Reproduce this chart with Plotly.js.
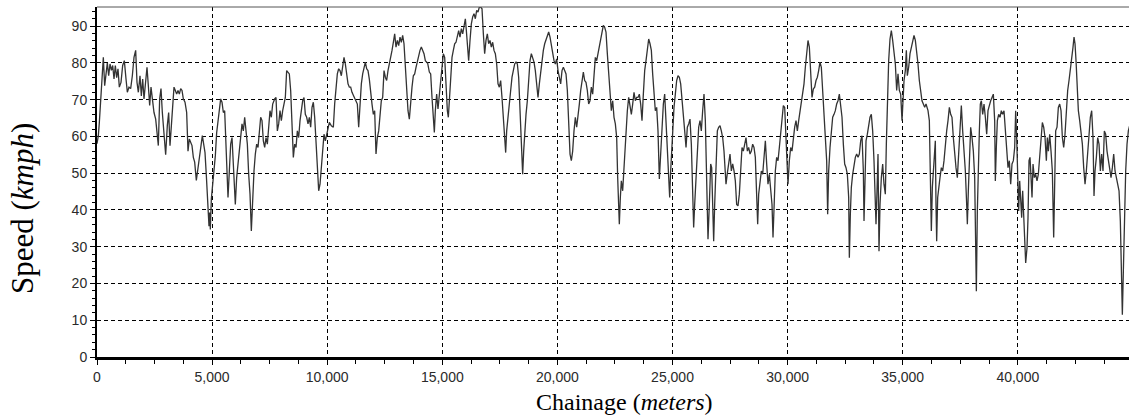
<!DOCTYPE html>
<html>
<head>
<meta charset="utf-8">
<script src="https://cdn.plot.ly/plotly-3.0.1.min.js"></script>
<style>html,body{margin:0;padding:0;background:#fff;}#chart{width:1129px;height:419px;}</style>
</head>
<body>
<div id="chart"></div>
<script>
// Chainage (meters) and speed (kmph)
const chainage = [
0,58,101,159,203,275,333,391,449,507,565,623,681,739,796,854,912,970,1043,1115,1187,1260,1318,1390,1462,1535,1607,1680,1738,1796,1868,1926,1984,2042,2100,2172,2230,2288,2346,2404,2476,2549,2606,2664,2722,2780,2838,2910,2983,3055,3113,3171,3229,3287,3345,3403,3461,3519,3577,3635,3693,3750,3823,3895,3953,4011,4069,4127,4185,4243,4315,4388,4446,4518,4576,4634,4692,4750,4807,4865,4894,4923,4967,5025,5083,5140,5198,5256,5314,5372,5430,5488,5546,5604,
5647,5691,5749,5807,5865,5923,5980,6009,6067,6125,6183,6241,6299,6357,6415,6473,6531,6589,6647,6704,6762,6820,6878,6936,6994,7052,7110,7168,7226,7284,7342,7400,7457,7515,7573,7631,7718,7776,7834,7892,7950,8008,8066,8124,8181,8239,8297,8355,8413,8471,8529,8587,8645,8703,8761,8819,8877,8935,8992,9050,9108,9166,9224,9282,9340,9398,9456,9514,9572,9630,9688,9745,9803,9861,9919,9977,
10035,10093,10180,10267,10324,10382,10440,10498,10556,10614,10672,10730,10788,10846,10904,10962,11020,11077,11135,11193,11251,11309,11367,11425,11483,11541,11599,11657,11715,11772,11830,11888,11946,12004,12062,12120,12178,12236,12294,12351,12410,12468,12526,12583,12641,12699,12757,12815,12873,12931,12989,13047,13105,13163,13220,13278,13336,13394,13452,13510,13568,13626,13684,13742,13800,13858,13916,13973,14031,14089,14147,14205,14263,
14364,14437,14495,14553,14611,14654,14697,14755,14813,14871,14929,14987,15045,15103,15161,15219,15262,15306,15364,15421,15479,15537,15595,15653,15711,15769,15827,15885,15943,16001,16044,16088,16145,16203,16261,16319,16377,16435,16493,16551,16609,16667,16725,16783,16840,16898,16956,17014,17072,17130,17188,17246,17304,17362,17420,17477,17535,17593,17651,17709,17753,17796,17854,17912,17970,18028,18086,18144,18202,18260,18317,18375,18433,18491,18535,18578,18636,
18694,18752,18810,18868,18926,18984,19041,19099,19157,19215,19273,19331,19389,19447,19505,19563,19621,19679,19737,19794,19852,19910,19968,20026,20084,20142,20200,20258,20316,20374,20432,20490,20548,20605,20663,20721,20779,20837,20895,20953,21011,21069,21127,21185,21242,21300,21358,21416,21474,21532,21590,21648,21706,21764,21822,21880,21938,21995,22053,22111,22169,22227,22285,22343,22401,22459,22517,22575,22618,22662,22690,22734,22777,22835,22893,22951,23009,
23038,23096,23154,23212,23270,23328,23385,23443,23501,23559,23617,23675,23733,23791,23849,23907,23965,24023,24081,24138,24196,24254,24312,24370,24428,24486,24544,24602,24660,24718,24776,24833,24877,24920,24964,25007,25065,25123,25181,25239,25297,25355,25413,25471,25529,25587,25644,25702,25760,25818,25876,25919,25963,26021,26079,26137,26195,26252,26310,26368,26426,26455,26499,26542,26600,26658,26701,26745,26788,26832,26890,26948,27005,27063,27121,27179,27237,27295,
27324,27382,27440,27498,27556,27614,27672,27729,27787,27845,27903,27961,28019,28077,28135,28193,28251,28309,28367,28424,28482,28540,28598,28656,28700,28743,28801,28859,28917,28975,29033,29091,29148,29206,29264,29322,29366,29409,29467,29525,29583,29641,29699,29757,29815,29873,29930,29974,30017,30075,30133,30191,30249,30307,30365,30423,30481,30539,30597,30654,30712,30770,30828,30886,30944,31002,31060,31118,31176,31234,31292,31349,31407,31465,31523,31581,31639,31697,31740,
31784,31842,31900,31958,32016,32073,32131,32189,32247,32305,32363,32421,32479,32537,32595,32653,32682,32725,32768,32826,32884,32942,33000,33058,33116,33174,33232,33290,33319,33362,33406,33464,33521,33579,33637,33695,33753,33797,33840,33884,33927,33970,34014,34072,34130,34187,34245,34289,34332,34390,34448,34506,34564,34622,34680,34738,34796,34854,34912,34970,35013,35057,35114,35158,35201,35259,35317,35375,35433,35491,35549,35606,35664,35722,35780,35838,35896,35954,
36012,36099,36157,36200,36244,36287,36331,36374,36417,36446,36475,36519,36562,36620,36678,36736,36794,36852,36910,36968,37026,37084,37141,37199,37257,37315,37373,37431,37489,37547,37605,37663,37721,37779,37808,37851,37895,37952,38010,38068,38126,38155,38199,38242,38285,38329,38372,38416,38474,38532,38590,38648,38705,38763,38821,38879,38937,38995,39024,39067,39111,39169,39227,39284,39342,39400,39458,39516,39574,39632,39690,39748,39806,39864,39907,39951,39994,40038,40081,40124,40168,40211,40255,40298,40342,
40400,40443,40487,40530,40574,40617,40661,40718,40776,40834,40892,40950,41008,41066,41124,41182,41240,41283,41327,41385,41442,41500,41558,41602,41645,41703,41761,41819,41877,41935,41993,42050,42108,42166,42224,42282,42340,42398,42442,42485,42529,42572,42630,42688,42746,42804,42862,42920,42977,43035,43093,43151,43209,43267,43310,43354,43412,43470,43528,43586,43643,43701,43759,43817,43875,43933,43991,44049,44107,44165,44223,44281,44339,44397,44454,44498,44541,44585,44628,44686,44744,44802,44860
];
const speed = [
58,60.2,63.8,70,73.8,81.5,73.8,77.5,80,76.5,79.7,78,79.3,75.6,79.3,76,78.4,73.4,74.7,79.3,80.6,75.6,72,73.4,73,76.5,81.5,83.4,74.7,72,76.5,71,75.6,70.2,74.7,78.8,73.8,68.4,73.4,70.2,66.5,64.7,61,57.5,70.2,73,66.5,61,55,63,66.5,57.5,63.4,70.2,73.4,72.5,71.5,72.5,71.5,73,72.5,70.2,69.3,66.5,56,59.3,58.4,57.5,54.3,53,48,52,55.2,57.5,60.2,57.5,55.6,49.3,43,35.6,39.3,34.7,43,46.5,50.2,54.7,61,64.7,67.5,70.2,69.3,66.5,67,55.6,
47,43.4,50.6,57.9,59.7,52.5,45.2,41.5,48.8,52.5,56,60.6,63.4,61.5,65.2,61.5,57.9,49.7,44.3,34.3,45.2,50.6,55.2,57.9,57,61.5,65.2,64.3,58.8,57,59.7,57.9,62.5,67,65.2,68.8,70.2,70.6,61.5,63.4,67,64.3,67,68.8,70.6,77.9,77.5,77,72.5,61.5,54.3,57.9,57,61.5,59.7,64.3,67.9,69.7,70.6,66,65.2,63.4,65.2,62.5,67.9,69.3,65.2,57.9,48.8,45.2,47,52.5,57.9,60.6,58.8,60.6,
61.5,63.8,62.9,62.5,68.8,74.3,77,78.4,77.9,76.5,79.7,81.5,79.7,76.1,74.3,73.4,73.4,72,71.1,70.6,69.7,68.8,62.5,68.8,74.3,77,78.4,80.2,78.4,77.9,75.6,71.5,68.8,66,67,55.2,59.7,61.5,67,69.7,70.6,77.9,76.1,75.2,77.9,79.7,80.6,83.4,85.6,87.9,84.3,86.1,84.7,87,85.6,87.5,85.2,77.9,71.5,67,64.7,69.7,73.4,76.5,77,78.8,80.6,82.5,83.4,84.3,83.4,82.5,80.6,
79.9,77.5,77,70.6,64.3,61.1,67,71.5,67.5,71.5,76.1,78.8,82.5,81.5,73.4,67,65.2,69.7,77.9,81.5,83.4,85.2,85.6,87,88.8,87,89.3,87.9,90.6,92,88.8,84.3,80.6,86.1,90.6,92.5,93.4,92,94.3,93.8,95.2,95.2,94.7,87.9,82.5,86.1,87.9,85.2,86.1,84.3,85.6,83.4,82.5,79.7,74.3,73.4,75.2,70.6,65.2,59.7,55.6,61.5,66,69.7,72.5,76.1,78.4,79.7,80.2,79.7,76.1,67,56,49.7,56,61.5,66,
69.7,76.1,80.6,82.5,81.5,80.2,77.9,74.3,70.6,74.3,77.9,80.6,83.4,85.2,86.1,87,88.4,87,84.7,82.9,80.6,79.7,81.1,77.9,76.1,74.3,77.9,78.8,77.9,77,72.5,60.6,55.2,53.4,56,61.5,65.2,62.5,65.2,68.8,72.5,75.2,77.5,75.2,74.7,72.5,68.8,69.7,73.4,71.5,77.9,81.5,80.6,82.5,85.2,87,88.8,90.2,89.7,88.4,82.5,77,70.6,67,69.7,65.2,63.4,59.7,48.8,39.7,36.1,43.4,47.9,45.2,52.5,57,63.4,
67,70.6,68.8,66,68.8,72,69.7,70.6,70.6,71.5,68.8,64.3,71.5,77.9,80.6,83.4,86.5,85.2,83.4,77,70.6,67,67.9,61.5,48.4,55.2,61.5,68.8,71.5,64.3,56,48.8,43.4,50.6,56,62.5,67.9,71.5,75.2,76.5,76.1,74.3,70.6,66,61.5,57,62.5,63.4,64.7,57.9,43.4,35.2,41.5,49.7,56,62.5,64.3,61.5,67,71.5,64.3,57,41.5,32,41.5,52.5,51.5,41.5,31.5,41.5,54.3,61.5,62.5,62.9,61.5,59.7,56,50.6,
47,50,52.5,55.2,50.6,52.5,50.6,47.9,41.5,41.1,44.3,51.5,57,56,57.9,59.7,56,57,55.2,56,57.9,57,54.3,41.5,36.1,44.3,47,50.6,49.7,54.3,58.8,52.5,47,49.7,44.3,41.5,32.5,43.4,50.6,54.3,53.4,57,61.5,66,68.4,67.9,60.6,52.5,47,53.4,57,56,59.7,62.5,64.3,61.5,64.3,67,69.7,71.5,74.3,78.8,83.4,86.1,84.3,77.9,70.6,72.9,73.4,75.2,76.1,77.9,80.2,78.8,72.5,68.8,61.5,53.4,38.8,
50.6,57,62.5,65.2,66,67,68.8,69.7,71.5,68.8,65.2,57.9,52.5,51.5,49.7,43.4,27,38.8,46.1,49.7,52.5,54.3,55.2,54.3,55.2,58.8,60.2,50.6,37,50.6,58.8,60.6,63.4,65.2,66,61.5,53.4,41.5,36.1,45.2,55.2,28.8,41.5,48.8,52.5,47,44.3,57.9,68.8,80.6,86.5,88.8,86.1,82.5,79.7,72.5,77,72.5,71.5,64.3,70.6,75.2,77.9,83.4,76.5,78.8,82.5,84.3,86.1,87.5,86.1,83.4,79.7,75.2,71.5,69.7,68.8,67.9,
68.8,67,64.3,41.5,34.3,46.1,51.2,56,58.8,41.5,31.5,43.4,45.2,48.8,51.5,50.6,53.4,57.9,61.5,64.3,67.9,66,65.2,59.7,55.2,51.5,48.8,54.3,61.5,68.4,61.5,56,50.6,41.5,36.1,45.2,56,62.5,59.7,56,48.8,39.7,17.9,39.7,53.4,61.5,68.8,69.7,66,68.8,65.2,60.6,67,68.8,69.7,70.6,71.5,64.3,47.9,57,64.3,66,65.2,67,66,67,62.5,57,51.5,53.4,47,52.5,53.4,57,67,59.7,45.2,39.7,47.9,41.5,37.9,45.2,37.9,30.6,25.6,
29.7,37.9,53.4,54.3,48.8,43.4,52.5,48.8,49.7,47.9,49.7,54.3,59.7,63.8,62.5,59.7,53.4,59.7,56,60.6,56,50.6,32.5,45.2,61.5,62.5,67.9,68.8,67,59.7,57,60.6,67.9,72.5,75.2,77.9,80.6,84.3,87,85.2,80.6,72.5,67,64.3,61.5,57.9,51.5,47,50.6,55.2,60.6,65.2,67,59.7,43.8,50.6,54.3,59.7,57.9,50.6,55.2,50.6,61.5,60.6,56,53.4,50.6,48.8,51.5,55.2,50.6,48.8,47,45.2,37,20.6,11.5,23.4,37,50.6,57.9,61.5,63
];
const xTickVals = [0,5000,10000,15000,20000,25000,30000,35000,40000];
const yTickVals = [0,10,20,30,40,50,60,70,80,90];
const xTitle = 'Chainage (<i>meters</i>)';
const yTitle = 'Speed (<i>kmph</i>)';

const tickFont = {family: 'Liberation Sans, Arial, sans-serif', size: 14, color: '#2a2a2a'};
const xTitleFont = {family: 'Liberation Serif, Times New Roman, serif', size: 24, color: '#000'};
const yTitleFont = {family: 'Liberation Serif, Times New Roman, serif', size: 31, color: '#000'};

const trace = {
  x: chainage, y: speed, type: 'scatter', mode: 'lines',
  line: {color: '#333', width: 1.3},
  hoverinfo: 'x+y'
};

const layout = {
  width: 1129, height: 419,
  margin: {l: 97, r: 0, t: 7, b: 62, pad: 0},
  paper_bgcolor: '#fff', plot_bgcolor: '#fff',
  showlegend: false,
  xaxis: {
    range: [0, 44830], tickvals: xTickVals, tickformat: ',d',
    showgrid: true, gridcolor: '#000', gridwidth: 1, griddash: '4px,3px',
    showline: true, linecolor: '#000', linewidth: 3,
    ticks: 'outside', ticklen: 5, tickcolor: '#000', tickwidth: 1,
    minor: {dtick: 1250, tick0: 0, ticks: 'outside', ticklen: 4, tickcolor: '#000', showgrid: false},
    zeroline: false, tickfont: tickFont, automargin: false
  },
  yaxis: {
    range: [0, 95.2], tickvals: yTickVals,
    showgrid: true, gridcolor: '#000', gridwidth: 1, griddash: '4px,3px',
    showline: true, linecolor: '#000', linewidth: 2,
    ticks: 'outside', ticklen: 5, tickcolor: '#000', tickwidth: 1,
    minor: {dtick: 2, tick0: 0, ticks: 'outside', ticklen: 3, tickcolor: '#000', showgrid: false},
    zeroline: false, tickfont: tickFont, automargin: false
  },
  annotations: [
    {text: xTitle, font: xTitleFont, xref: 'paper', yref: 'paper', x: 0.5116, y: -0.1286,
     xanchor: 'center', yanchor: 'middle', showarrow: false},
    {text: yTitle, font: yTitleFont, textangle: -90, xref: 'paper', yref: 'paper', x: -0.0717, y: 0.4229,
     xanchor: 'center', yanchor: 'middle', showarrow: false}
  ],
  shapes: [
    {type: 'line', xref: 'paper', yref: 'paper', x0: 0, x1: 1, y0: 1, y1: 1, line: {color: '#555', width: 1}}
  ]
};

Plotly.newPlot('chart', [trace], layout, {displayModeBar: false, staticPlot: true});
</script>
</body>
</html>
